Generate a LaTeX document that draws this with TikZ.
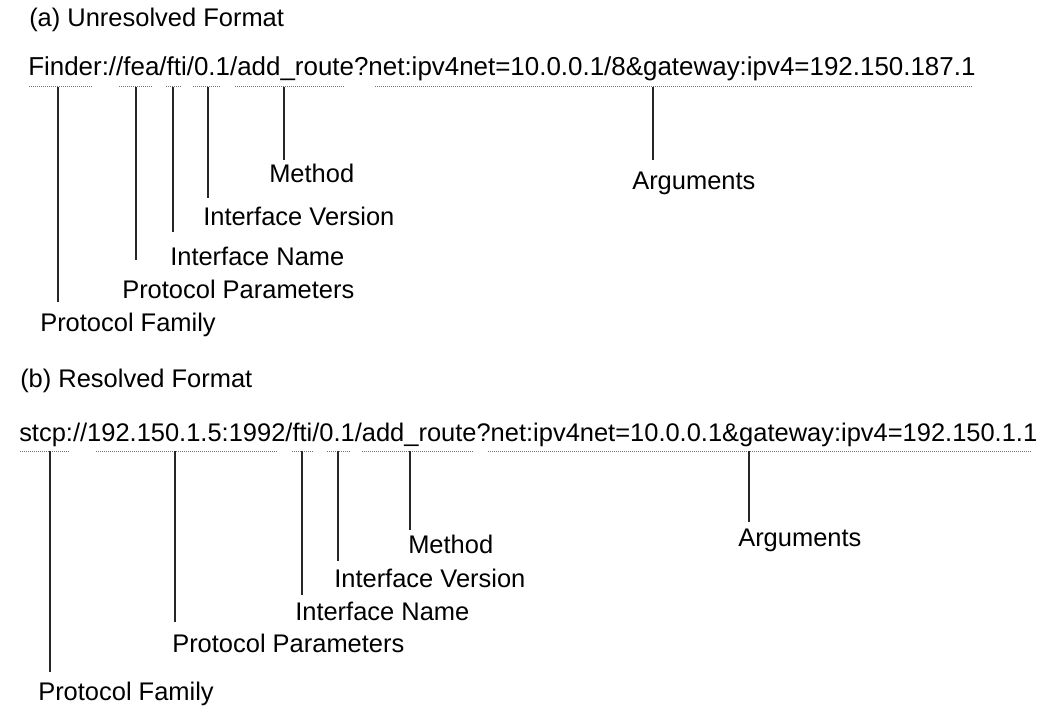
\documentclass[tikz,border=0pt]{standalone}
\usepackage{fontspec}
\setmainfont{Liberation Sans}
\begin{document}
\begin{tikzpicture}[x=0.75pt,y=-0.75pt,
  txt/.style={inner sep=0pt, anchor=base west, font=\fontsize{19.1}{23}\selectfont},
  url/.style={txt, font=\fontsize{19.45}{23}\selectfont},
  uline/.style={black!55, line width=0.75pt, dash pattern=on 0.75pt off 0.75pt},
  lead/.style={black!85, line width=0.9pt}]
\useasboundingbox (0,0) rectangle (1049,706);

% ---------------- (a) unresolved format ----------------
\node[txt] (titleA) at (29,27) {(a) Unresolved Format};
\node[url] (urlA) at (28,76) {Finder://fea/fti/0.1/add\_route?net:ipv4net=10.0.0.1/8\&gateway:ipv4=192.150.187.1};

% underlines of the URL fields
\foreach \l/\r in {29/93, 119/153, 166/182, 193/221, 235/345, 375/973}
  \draw[uline] (\l,87) -- (\r,87);

% field labels
\node[txt] (aMethod) at (269,183) {Method};
\node[txt] (aArgs)   at (632,190) {Arguments};
\node[txt] (aIV)     at (203,225) {Interface Version};
\node[txt] (aIN)     at (170,265) {Interface Name};
\node[txt] (aPP)     at (122,298) {Protocol Parameters};
\node[txt] (aPF)     at (40,331)  {Protocol Family};

% leader lines: start on the underline, stop above the label
\coordinate (aPFtop) at (58,87);   \coordinate (aPFend) at (58,302);
\coordinate (aPPtop) at (136,87);  \coordinate (aPPend) at (136,260);
\coordinate (aINtop) at (173,87);  \coordinate (aINend) at (173,232);
\coordinate (aIVtop) at (208,87);  \coordinate (aIVend) at (208,198);
\coordinate (aMtop)  at (284,87);  \coordinate (aMend)  at (284,160);
\coordinate (aAtop)  at (653,87);  \coordinate (aAend)  at (653,160);
\foreach \f in {aPF, aPP, aIN, aIV}
  \draw[lead] (\f top) -- (\f end);
\draw[lead] (aMtop) -- (aMend);
\draw[lead] (aAtop) -- (aAend);

% ---------------- (b) resolved format ----------------
\node[txt] (titleB) at (20,387) {(b) Resolved Format};
\node[txt] (urlB) at (19,441) {stcp://192.150.1.5:1992/fti/0.1/add\_route?net:ipv4net=10.0.0.1\&gateway:ipv4=192.150.1.1};

\foreach \l/\r in {20/69, 96/277, 292/313, 327/350, 362/473, 488/1032}
  \draw[uline] (\l,451) -- (\r,451);

\node[txt] (bMethod) at (408,553) {Method};
\node[txt] (bArgs)   at (738,546) {Arguments};
\node[txt] (bIV)     at (334,587) {Interface Version};
\node[txt] (bIN)     at (295,620) {Interface Name};
\node[txt] (bPP)     at (172,652) {Protocol Parameters};
\node[txt] (bPF)     at (38,700)  {Protocol Family};

\coordinate (bPFtop) at (50,451);   \coordinate (bPFend) at (50,672);
\coordinate (bPPtop) at (175,451);  \coordinate (bPPend) at (175,622);
\coordinate (bINtop) at (302,451);  \coordinate (bINend) at (302,595);
\coordinate (bIVtop) at (338,451);  \coordinate (bIVend) at (338,561);
\coordinate (bMtop)  at (410,451);  \coordinate (bMend)  at (410,530);
\coordinate (bAtop)  at (749,451);  \coordinate (bAend)  at (749,522);
\foreach \f in {bPF, bPP, bIN, bIV}
  \draw[lead] (\f top) -- (\f end);
\draw[lead] (bMtop) -- (bMend);
\draw[lead] (bAtop) -- (bAend);
\end{tikzpicture}
\end{document}
